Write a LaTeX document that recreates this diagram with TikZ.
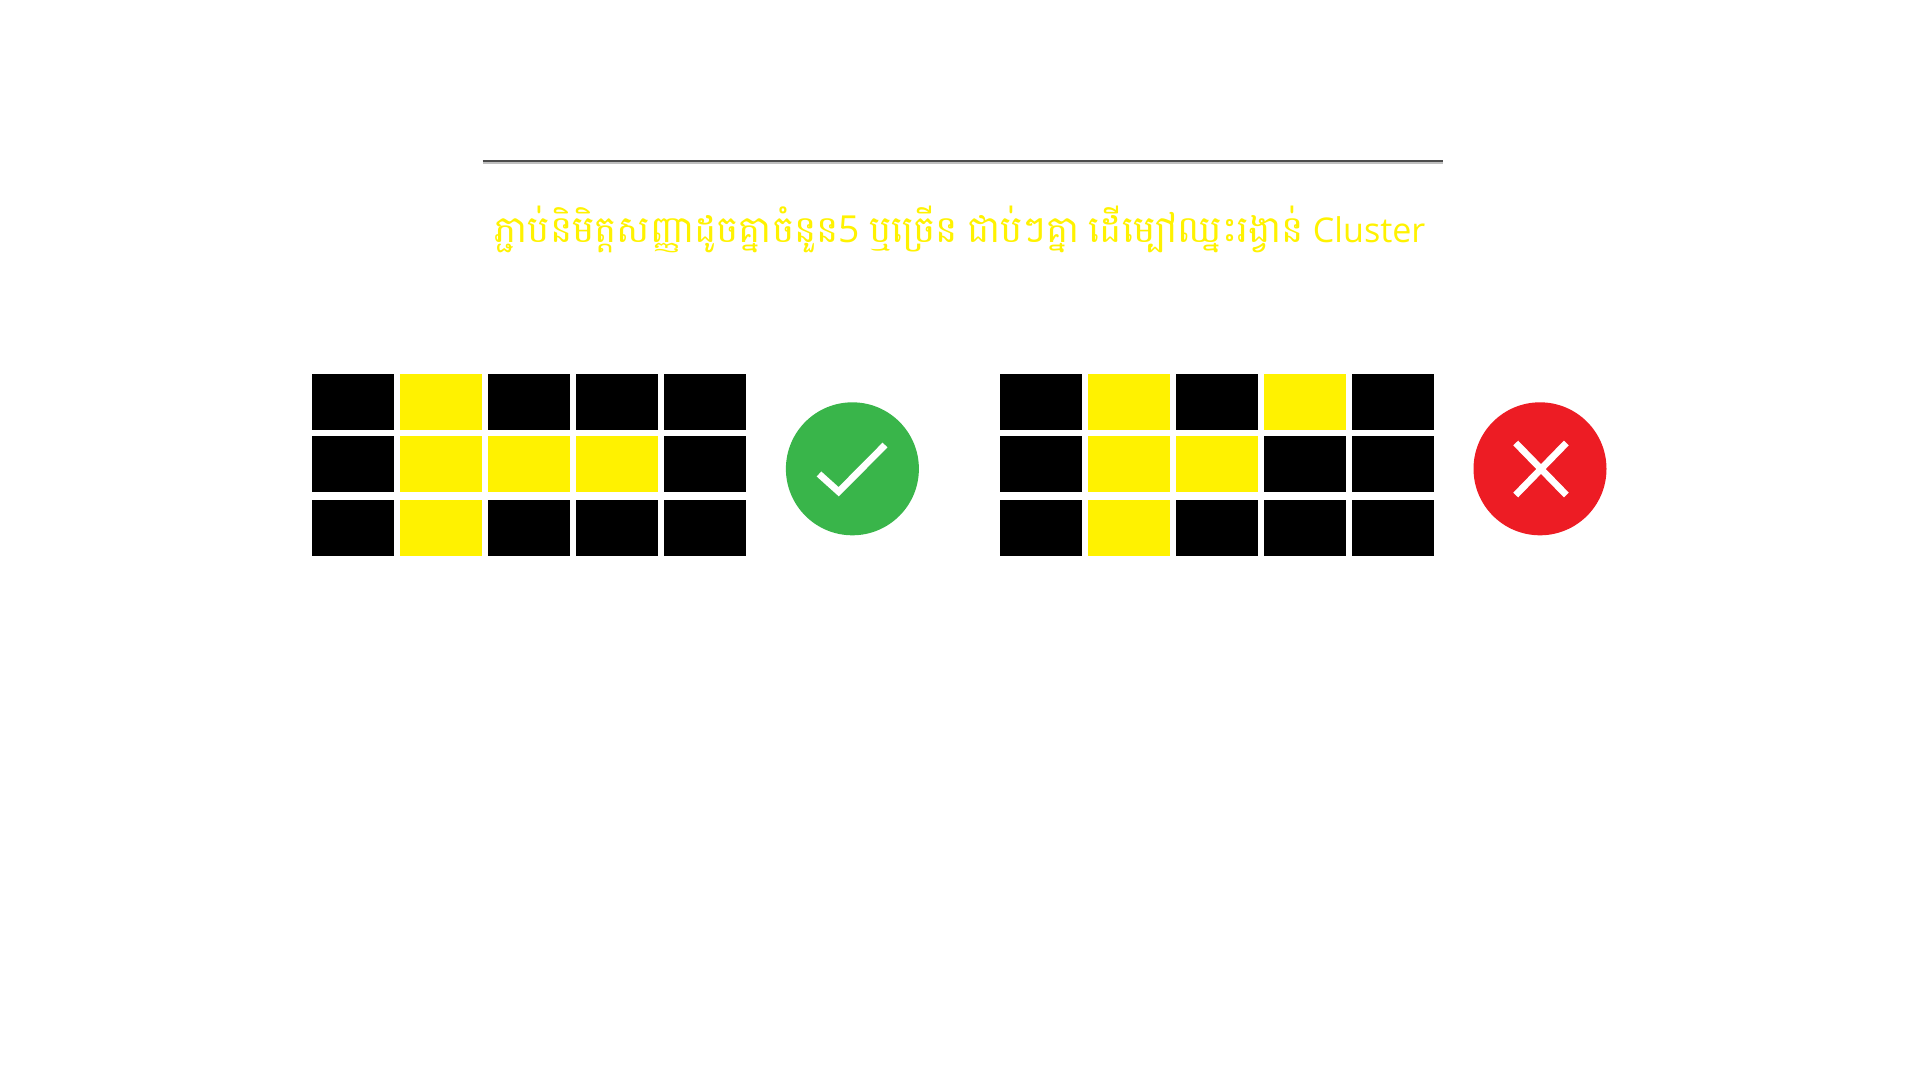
\documentclass[tikz,border=0pt]{standalone}
\usepackage{fontspec}
\usetikzlibrary{positioning}
\newfontfamily\khmerfont[Script=Khmer,WordSpace=0.72]{Battambang}
\newfontfamily\latinfont{Open Sans}
\definecolor{cellyellow}{HTML}{FFF200}
\definecolor{okgreen}{HTML}{39B54A}
\definecolor{badred}{HTML}{ED1C24}

\begin{document}
\begin{tikzpicture}[x=0.1mm,y=0.1mm,node distance=0.625mm and 0.625mm,
                    black cell/.style={fill=black,minimum width=8.17mm,minimum height=5.6mm,inner sep=0pt,outer sep=0pt},
                    yellow cell/.style={black cell,fill=cellyellow},
                    main circle/.style={circle,minimum size=13.3mm,inner sep=0pt,outer sep=0pt},
                    mark line/.style={draw=white,line width=0.68mm}]
      \useasboundingbox (0,0) rectangle (1920,1080);

      \coordinate (ruleleft) at (482.5,919);
      \coordinate (ruleright) at (1442.5,919);
      \draw[black!25,line width=0.25mm] ([yshift=-0.15mm]ruleleft) -- ([yshift=-0.15mm]ruleright);
      \draw[black!70,line width=0.2mm] (ruleleft) -- (ruleright);

      \node[inner sep=0pt,text=cellyellow,font=\fontsize{10.6}{12}\selectfont] (title) at (960,851)
        {\khmerfont ភ្ជាប់និមិត្តសញ្ញាដូចគ្នាចំនួន{\latinfont 5} ឬច្រើន ជាប់ៗគ្នា ដើម្បៅឈ្នះរង្វាន់ {\latinfont\fontsize{9.7}{12}\selectfont Cluster}};

      % left grid
      \node[black cell] (a1) at (353,678) {};
      \node[yellow cell] (a2) [right=of a1] {};
      \node[black cell] (a3) [right=of a2] {};
      \node[black cell] (a4) [right=of a3] {};
      \node[black cell] (a5) [right=of a4] {};
      \node[black cell] (b1) at (353,616) {};
      \node[yellow cell] (b2) [right=of b1] {};
      \node[yellow cell] (b3) [right=of b2] {};
      \node[yellow cell] (b4) [right=of b3] {};
      \node[black cell] (b5) [right=of b4] {};
      \node[black cell] (c1) at (353,552) {};
      \node[yellow cell] (c2) [right=of c1] {};
      \node[black cell] (c3) [right=of c2] {};
      \node[black cell] (c4) [right=of c3] {};
      \node[black cell] (c5) [right=of c4] {};
      \node[main circle,fill=okgreen] (okmark) at (852.4,611.2) {};
      \draw[mark line] (819,606) -- (838.7,588.3) -- (885,635);

      % right grid
      \node[black cell] (d1) at (1041.2,678) {};
      \node[yellow cell] (d2) [right=of d1] {};
      \node[black cell] (d3) [right=of d2] {};
      \node[yellow cell] (d4) [right=of d3] {};
      \node[black cell] (d5) [right=of d4] {};
      \node[black cell] (e1) at (1041.2,616) {};
      \node[yellow cell] (e2) [right=of e1] {};
      \node[yellow cell] (e3) [right=of e2] {};
      \node[black cell] (e4) [right=of e3] {};
      \node[black cell] (e5) [right=of e4] {};
      \node[black cell] (f1) at (1041.2,552) {};
      \node[yellow cell] (f2) [right=of f1] {};
      \node[black cell] (f3) [right=of f2] {};
      \node[black cell] (f4) [right=of f3] {};
      \node[black cell] (f5) [right=of f4] {};
      \node[main circle,fill=badred] (badmark) at (1540,611.2) {};
      \draw[mark line] (1515.7,637) -- (1566.3,585);
      \draw[mark line] (1566.3,637) -- (1515.7,585);
\end{tikzpicture}
\end{document}
